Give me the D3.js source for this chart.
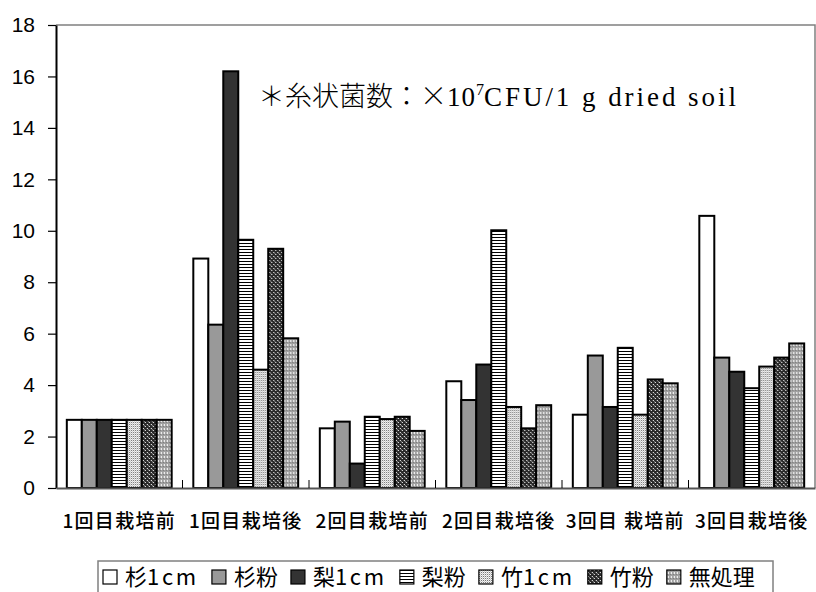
<!DOCTYPE html>
<html>
<head>
<meta charset="utf-8">
<script src="https://cdn.jsdelivr.net/npm/d3@7"></script>
<style>
  html, body { margin: 0; padding: 0; background: #fff; }
  svg { display: block; }
</style>
</head>
<body>
<svg id="chart" width="816" height="592"></svg>
<script>
// Filamentous fungi counts (×10^7 CFU / 1 g dried soil) per cultivation stage
const categories = ["1回目栽培前", "1回目栽培後", "2回目栽培前", "2回目栽培後", "3回目 栽培前", "3回目栽培後"];
const seriesNames = ["杉1cm", "杉粉", "梨1cm", "梨粉", "竹1cm", "竹粉", "無処理"];
const sugi1cm  = [2.65, 8.92, 2.32, 4.15, 2.85, 10.58];
const sugiKona = [2.65, 6.35, 2.58, 3.42, 5.15, 5.07];
const nashi1cm = [2.65, 16.2, 0.95, 4.8, 3.15, 4.52];
const nashiKona = [2.65, 9.65, 2.77, 10.02, 5.45, 3.88];
const take1cm  = [2.65, 4.6, 2.68, 3.15, 2.85, 4.72];
const takeKona = [2.65, 9.3, 2.77, 2.32, 4.22, 5.07];
const mushori  = [2.65, 5.82, 2.22, 3.22, 4.07, 5.62];
const seriesValues = [sugi1cm, sugiKona, nashi1cm, nashiKona, take1cm, takeKona, mushori];
const yTicks = [0, 2, 4, 6, 8, 10, 12, 14, 16, 18];

const svg = d3.select("#chart");
const defs = svg.append("defs");
const cjk = "Noto Sans CJK JP, sans-serif";

// Fill patterns for the bar series
function pattern(id, size, bg, dots) {
  const p = defs.append("pattern").attr("id", id)
    .attr("patternUnits", "userSpaceOnUse").attr("width", size[0]).attr("height", size[1]);
  p.append("rect").attr("width", size[0]).attr("height", size[1]).attr("fill", bg);
  dots.forEach(d => p.append("rect").attr("x", d[0]).attr("y", d[1])
    .attr("width", d[2]).attr("height", d[3]).attr("fill", d[4]));
}
pattern("p-hline", [4, 3], "#fff", [[0, 0, 4, 1, "#000"]]);
pattern("p-fine", [2, 2], "#fff", [[0, 0, 1, 1, "#666"], [1, 1, 1, 1, "#c4c4c4"]]);
pattern("p-darkdot", [4, 4], "#2a2a2a", [[0, 0, 1, 1, "#fff"], [2, 2, 1, 1, "#fff"], [1, 1, 1, 1, "#888"]]);
pattern("p-graydot", [3, 4], "#a0a0a0", [[1, 0, 1, 2, "#fff"], [0, 2, 1, 1, "#777"]]);

const fills = ["#ffffff", "#999999", "#333333", "url(#p-hline)", "url(#p-fine)", "url(#p-darkdot)", "url(#p-graydot)"];

const plotLeft = 56, plotRight = 815, plotTop = 25, plotBottom = 488;

const x0 = d3.scaleBand().domain(categories).range([plotLeft, plotRight])
  .paddingInner(0.171).paddingOuter(0.0855);
const x1 = d3.scaleBand().domain(seriesNames).range([0, x0.bandwidth()]);
const y = d3.scaleLinear().domain([0, 18]).range([plotBottom, plotTop]);

// Plot frame (top and right edges)
svg.append("path")
  .attr("d", `M${plotLeft},${plotTop}H${plotRight}V${plotBottom}`)
  .attr("fill", "none").attr("stroke", "#808080").attr("stroke-width", 1.5);

// Bars
const groups = svg.append("g").selectAll("g")
  .data(categories).join("g")
  .attr("transform", d => `translate(${x0(d)},0)`);
groups.selectAll("rect")
  .data((c, ci) => seriesNames.map((s, si) => ({ s, si, v: seriesValues[si][ci] })))
  .join("rect")
  .attr("x", d => x1(d.s))
  .attr("y", d => y(d.v))
  .attr("width", x1.bandwidth())
  .attr("height", d => y(0) - y(d.v))
  .attr("fill", d => fills[d.si])
  .attr("stroke", "#000").attr("stroke-width", 2);

// Y axis
const yAxis = svg.append("g").attr("transform", `translate(${plotLeft},0)`)
  .call(d3.axisLeft(y).tickValues(yTicks).tickSize(8).tickPadding(13).tickSizeOuter(0));
yAxis.select(".domain").attr("stroke", "#000").attr("stroke-width", 2);
yAxis.selectAll(".tick line").attr("stroke", "#000").attr("stroke-width", 1.2);
yAxis.selectAll(".tick text")
  .attr("font-family", "Liberation Sans, Arial, sans-serif").attr("font-size", 21).attr("fill", "#000");

// X axis baseline, inward ticks between categories, category labels
const xAxis = svg.append("g").attr("transform", `translate(0,${plotBottom})`)
  .call(d3.axisBottom(x0).tickSize(0).tickPadding(27));
xAxis.select(".domain").attr("stroke", "#555").attr("stroke-width", 2);
xAxis.selectAll(".tick text")
  .attr("font-family", cjk).attr("font-size", 19).attr("letter-spacing", 1.3)
  .attr("font-weight", 500).attr("fill", "#000");
const step = x0.step();
svg.append("g").selectAll("line")
  .data(d3.range(1, categories.length))
  .join("line")
  .attr("x1", i => plotLeft + i * step).attr("x2", i => plotLeft + i * step)
  .attr("y1", plotBottom).attr("y2", plotBottom - 8)
  .attr("stroke", "#000").attr("stroke-width", 1);

// Unit annotation
const serif = "Liberation Serif, Times New Roman, serif";
const note = svg.append("text").attr("x", 258).attr("y", 106).attr("font-size", 27).attr("fill", "#000");
note.append("tspan").attr("font-family", cjk).attr("font-weight", 300).text("＊糸状菌数：×");
note.append("tspan").attr("font-family", serif).attr("textLength", 28).text("10");
note.append("tspan").attr("font-family", serif).attr("font-size", 16).attr("dy", -11).text("7");
note.append("tspan").attr("font-family", serif).attr("dy", 11)
  .attr("textLength", 252).attr("lengthAdjust", "spacing").text("CFU/1 g dried soil");

// Legend
const legend = svg.append("g");
legend.append("rect").attr("x", 98).attr("y", 561).attr("width", 675).attr("height", 40)
  .attr("fill", "#fff").attr("stroke", "#808080").attr("stroke-width", 1.5);
let lx = 103;
seriesNames.forEach((name, i) => {
  const g = legend.append("g").attr("transform", `translate(${lx},0)`);
  g.append("rect").attr("x", 0).attr("y", 570).attr("width", 14).attr("height", 14)
    .attr("fill", fills[i]).attr("stroke", "#000").attr("stroke-width", 1.2);
  const t = g.append("text").attr("x", 22).attr("y", 585)
    .attr("font-family", cjk).attr("font-size", 22).attr("fill", "#000");
  const m = name.match(/^([^0-9]+)(.*)$/);
  t.append("tspan").text(m[1]);
  if (m[2]) t.append("tspan").attr("letter-spacing", 2.7).text(m[2]);
  lx += 22 + t.node().getComputedTextLength() + 13;
});
</script>
</body>
</html>
